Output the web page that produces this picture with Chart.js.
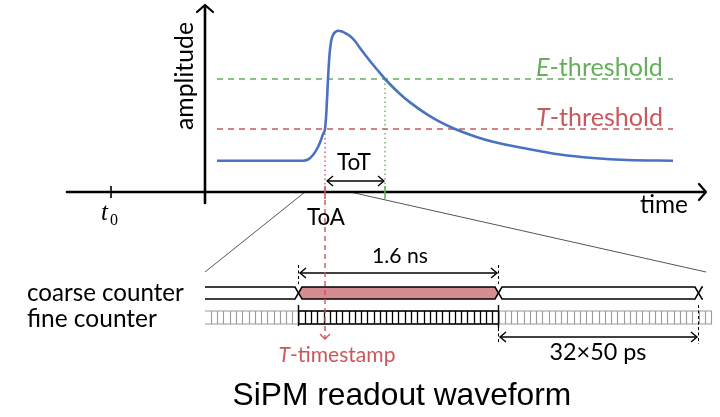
<!DOCTYPE html>
<html><head><meta charset="utf-8">
<script src="https://cdn.jsdelivr.net/npm/chart.js@4"></script>
<style>html,body{margin:0;padding:0;background:#fff;}#wrap{width:720px;height:417px;position:relative}</style>
</head><body><div id="wrap"><canvas id="c"></canvas></div>
<script>
// ---- data (upper plot: time in arbitrary units, t0 = 0; amplitude in arbitrary units) ----
const waveTime = [5.30, 6.95, 8.95, 9.60, 9.85, 10.10, 10.35, 10.50, 10.60, 10.70, 10.775, 10.85, 10.925, 11.00, 11.10, 11.25, 11.35, 11.55, 11.75, 11.95, 12.20, 12.45, 12.95, 13.30, 13.70, 14.45, 14.95, 15.80, 16.45, 17.20, 18.20, 19.10, 20.80, 22.45, 24.10, 25.80, 28.10];
const waveAmp  = [3.13, 3.13, 3.13, 3.13, 3.25, 3.70, 4.50, 5.20, 5.80, 6.30, 8.20, 11.30, 13.70, 15.00, 15.70, 16.05, 16.13, 16.05, 15.85, 15.60, 15.10, 14.40, 13.10, 12.25, 11.30, 9.80, 8.96, 7.76, 7.01, 6.30, 5.56, 5.03, 4.33, 3.75, 3.40, 3.20, 3.13];
const thresholdNames = ['E-threshold', 'T-threshold'];
const thresholdValues = [11.3, 6.3];
const thresholdSpan = [5.30, 28.10];
const t0Time = 0;
const toaTime = 10.70;       // T-threshold crossing (rising edge)
const eCrossTime = 13.70;    // E-threshold crossing (falling edge)
const zoomWindow = [9.70, 11.95];
// ---- lower (zoomed) timing diagram, in ns ----
const coarseEdgesNs = [0, 1.6, 3.2];
const coarsePeriodLabel = '1.6 ns';
const fineStepNs = 0.05;
const fineLabel = '32×50 ps';
const counterSpanNs = [-0.748, 3.308];
const rowLabels = ['coarse counter', 'fine counter'];
const axisLabels = ['time', 'amplitude'];
const title = 'SiPM readout waveform';

const BLUE = '#4a72c0', RED = '#c9585c', GREEN = '#66ad5c', PINK = '#d68d91';
const SANS = 'Lato, "Open Sans", sans-serif';

function fitText(ctx, parts, x, y, width, align, family, baseSize, color) {
  const font = (p, s) => (p.italic ? 'italic ' : '') + s + 'px ' + family;
  let w = 0;
  parts.forEach(p => { ctx.font = font(p, baseSize); w += ctx.measureText(p.t).width; });
  const s = baseSize * width / w;
  let cx = align === 'left' ? x : align === 'right' ? x - width : x - width / 2;
  ctx.fillStyle = color; ctx.textAlign = 'left';
  parts.forEach(p => { ctx.font = font(p, s); ctx.fillText(p.t, cx, y); cx += ctx.measureText(p.t).width; });
}
function chevron(ctx, x, y, ang, len, half) {
  const ca = Math.cos(ang), sa = Math.sin(ang);
  ctx.beginPath();
  ctx.moveTo(x - len * ca - half * -sa, y - len * sa - half * ca);
  ctx.lineTo(x, y);
  ctx.lineTo(x - len * ca + half * -sa, y - len * sa + half * ca);
  ctx.stroke();
}
function hLine(ctx, x0, x1, y) { ctx.beginPath(); ctx.moveTo(x0, y); ctx.lineTo(x1, y); ctx.stroke(); }
function vLine(ctx, x, y0, y1) { ctx.beginPath(); ctx.moveTo(x, y0); ctx.lineTo(x, y1); ctx.stroke(); }
function dimArrow(ctx, x0, x1, y) {
  ctx.lineWidth = 1.4; ctx.strokeStyle = '#000'; ctx.setLineDash([]);
  hLine(ctx, x0, x1, y);
  chevron(ctx, x0, y, Math.PI, 6, 5);
  chevron(ctx, x1, y, 0, 6, 5);
}

const schematic = {
  id: 'schematic',
  beforeDatasetsDraw(chart) {
    const ctx = chart.ctx, sx = chart.scales.x, sy = chart.scales.y, sz = chart.scales.xz;
    const px = v => sx.getPixelForValue(v), py = v => sy.getPixelForValue(v), pz = v => sz.getPixelForValue(v);
    ctx.save();
    ctx.lineCap = 'butt';
    // zoom guide lines
    ctx.strokeStyle = '#555'; ctx.lineWidth = 1;
    ctx.beginPath(); ctx.moveTo(px(zoomWindow[0]), py(0)); ctx.lineTo(pz(counterSpanNs[0]), 272); ctx.stroke();
    ctx.beginPath(); ctx.moveTo(px(zoomWindow[1]), py(0)); ctx.lineTo(pz(3.26), 272); ctx.stroke();
    // thresholds
    ctx.lineWidth = 1.3; ctx.setLineDash([6, 5]);
    [GREEN, RED].forEach((c, i) => { ctx.strokeStyle = c; hLine(ctx, px(thresholdSpan[0]), px(thresholdSpan[1]), py(thresholdValues[i])); });
    // dotted verticals
    ctx.setLineDash([1.5, 3]); ctx.lineWidth = 1.4;
    ctx.strokeStyle = RED; vLine(ctx, px(toaTime), py(thresholdValues[1]), py(0));
    ctx.strokeStyle = GREEN; vLine(ctx, px(eCrossTime), py(thresholdValues[0]), py(0));
    ctx.setLineDash([]);
    // axes
    ctx.strokeStyle = '#000'; ctx.lineWidth = 2.6; ctx.lineCap = 'round'; ctx.lineJoin = 'round';
    hLine(ctx, px(-2.2), px(29.7), py(0));
    vLine(ctx, px(4.7), py(-1.1), py(18.6));
    ctx.lineWidth = 2.2;
    chevron(ctx, px(29.75), py(0), 0, 7, 8);
    chevron(ctx, px(4.7), py(18.7), -Math.PI / 2, 7, 8);
    ctx.lineCap = 'butt';
    ctx.lineWidth = 1.6; vLine(ctx, px(t0Time), py(0) - 6, py(0) + 6);
    ctx.strokeStyle = RED; vLine(ctx, px(toaTime), py(0) - 6, py(0) + 7);
    ctx.strokeStyle = GREEN; vLine(ctx, px(eCrossTime), py(0) - 6, py(0) + 7);
    // ToT arrow
    dimArrow(ctx, px(toaTime) + 2, px(eCrossTime) - 1, 181);

    // ---- lower diagram ----
    const top = 287, bot = 299, mid = 293, d = 3.5;
    const e = coarseEdgesNs.map(pz);
    // fine counter
    const fTop = 311, fBot = 324;
    ctx.lineWidth = 1.1;
    const k0 = Math.ceil(counterSpanNs[0] / fineStepNs), k1 = Math.floor(counterSpanNs[1] / fineStepNs);
    ctx.strokeStyle = '#9a9a9a';
    hLine(ctx, pz(counterSpanNs[0]), pz(counterSpanNs[1]), fTop);
    hLine(ctx, pz(counterSpanNs[0]), pz(counterSpanNs[1]), fBot);
    for (let k = k0; k <= k1; k++) {
      const t = k * fineStepNs;
      const inside = t > coarseEdgesNs[0] + 1e-9 && t < coarseEdgesNs[1] - 1e-9;
      if (!inside) { ctx.strokeStyle = '#9a9a9a'; vLine(ctx, Math.round(pz(t)) + 0.5, fTop, fBot); }
    }
    ctx.strokeStyle = '#000'; ctx.lineWidth = 1.3;
    hLine(ctx, e[0], e[1], fTop); hLine(ctx, e[0], e[1], fBot);
    for (let k = 1; k < Math.round((coarseEdgesNs[1] - coarseEdgesNs[0]) / fineStepNs); k++) {
      vLine(ctx, Math.round(pz(coarseEdgesNs[0] + k * fineStepNs)) + 0.5, fTop, fBot);
    }
    ctx.lineWidth = 1.4;
    vLine(ctx, e[0], 305, fBot + 2); vLine(ctx, e[1], 305, fBot + 4);
    ctx.setLineDash([3, 2.5]); ctx.lineWidth = 1;
    vLine(ctx, e[1], fBot + 4, 344); vLine(ctx, e[2], 305, 344);
    vLine(ctx, e[0], 265, 284); vLine(ctx, e[1], 265, 284);
    ctx.setLineDash([]);
    // coarse counter
    ctx.strokeStyle = '#000'; ctx.lineWidth = 1.5; ctx.lineJoin = 'miter';
    ctx.beginPath();
    ctx.moveTo(pz(counterSpanNs[0]), top); ctx.lineTo(e[0] - d, top); ctx.lineTo(e[0], mid); ctx.lineTo(e[0] - d, bot); ctx.lineTo(pz(counterSpanNs[0]), bot);
    ctx.stroke();
    const seg = (a, b, fill) => {
      ctx.beginPath();
      ctx.moveTo(a, mid); ctx.lineTo(a + d, top); ctx.lineTo(b - d, top); ctx.lineTo(b, mid); ctx.lineTo(b - d, bot); ctx.lineTo(a + d, bot); ctx.closePath();
      if (fill) { ctx.fillStyle = fill; ctx.fill(); }
      ctx.stroke();
    };
    seg(e[0], e[1], PINK);
    seg(e[1], e[2], null);
    ctx.beginPath();
    ctx.moveTo(pz(3.236), top); ctx.lineTo(e[2] + d, top); ctx.lineTo(e[2], mid); ctx.lineTo(e[2] + d, bot); ctx.lineTo(pz(3.236), bot);
    ctx.stroke();
    // dimension arrows
    dimArrow(ctx, e[0] + 1.5, e[1] - 1.5, 273);
    dimArrow(ctx, e[1] + 1.5, e[2] - 1.5, 337);
    // T-timestamp line
    ctx.strokeStyle = RED; ctx.lineWidth = 1.4; ctx.setLineDash([5, 4]);
    vLine(ctx, px(toaTime), py(0) + 8, 338);
    ctx.setLineDash([]);
    chevron(ctx, px(toaTime), 339, Math.PI / 2, 5, 5);
    ctx.restore();
  },
  afterDatasetsDraw(chart) {
    const ctx = chart.ctx, sx = chart.scales.x;
    const px = v => sx.getPixelForValue(v);
    ctx.save();
    ctx.textBaseline = 'alphabetic';
    fitText(ctx, [{t: 'E', italic: true}, {t: thresholdNames[0].slice(1)}], 663, 76, 127, 'right', SANS, 20, GREEN);
    fitText(ctx, [{t: 'T', italic: true}, {t: thresholdNames[1].slice(1)}], 663, 126, 127, 'right', SANS, 20, RED);
    fitText(ctx, [{t: 'ToT'}], 354, 170, 34, 'center', SANS, 20, '#000');
    fitText(ctx, [{t: 'ToA'}], 326, 225, 38, 'center', SANS, 20, '#000');
    fitText(ctx, [{t: axisLabels[0]}], 664, 213, 48, 'center', SANS, 20, '#000');
    ctx.fillStyle = '#000';
    ctx.font = 'italic 25px "Liberation Serif", serif'; ctx.textAlign = 'left';
    ctx.fillText('t', px(t0Time) - 10, 220);
    ctx.font = '16px "Liberation Serif", serif';
    ctx.fillText('0', px(t0Time) - 1, 225);
    ctx.save();
    ctx.translate(193, 76); ctx.rotate(-Math.PI / 2);
    fitText(ctx, [{t: axisLabels[1]}], 0, 0, 108, 'center', SANS, 20, '#000');
    ctx.restore();
    fitText(ctx, [{t: rowLabels[0]}], 27, 301, 157, 'left', SANS, 20, '#000');
    fitText(ctx, [{t: rowLabels[1]}], 27, 327, 130, 'left', SANS, 20, '#000');
    fitText(ctx, [{t: coarsePeriodLabel}], 400, 263, 56, 'center', SANS, 20, '#000');
    fitText(ctx, [{t: fineLabel}], 598, 360, 97, 'center', SANS, 20, '#000');
    fitText(ctx, [{t: 'T', italic: true}, {t: '-timestamp'}], 337, 362, 117, 'center', SANS, 20, RED);
    fitText(ctx, [{t: title}], 402, 405, 339, 'center', '"Liberation Sans", Arial, sans-serif', 30, '#000');
    ctx.restore();
  }
};

new Chart(document.getElementById('c'), {
  type: 'line',
  data: {
    datasets: [{
      data: waveTime.map((t, i) => ({x: t, y: waveAmp[i]})),
      borderColor: BLUE, borderWidth: 2.6, pointRadius: 0, fill: false,
      cubicInterpolationMode: 'monotone'
    }]
  },
  options: {
    responsive: true, maintainAspectRatio: false, animation: false,
    devicePixelRatio: 1,
    layout: {padding: 0},
    plugins: {legend: {display: false}, tooltip: {enabled: false}, title: {display: false}},
    scales: {
      x: {type: 'linear', min: -5.55, max: 30.45, display: false},
      y: {type: 'linear', min: -22.5, max: 19.2, display: false},
      xz: {type: 'linear', axis: 'x', min: -2.388, max: 3.372, display: false}
    }
  },
  plugins: [schematic]
});
</script></body></html>
